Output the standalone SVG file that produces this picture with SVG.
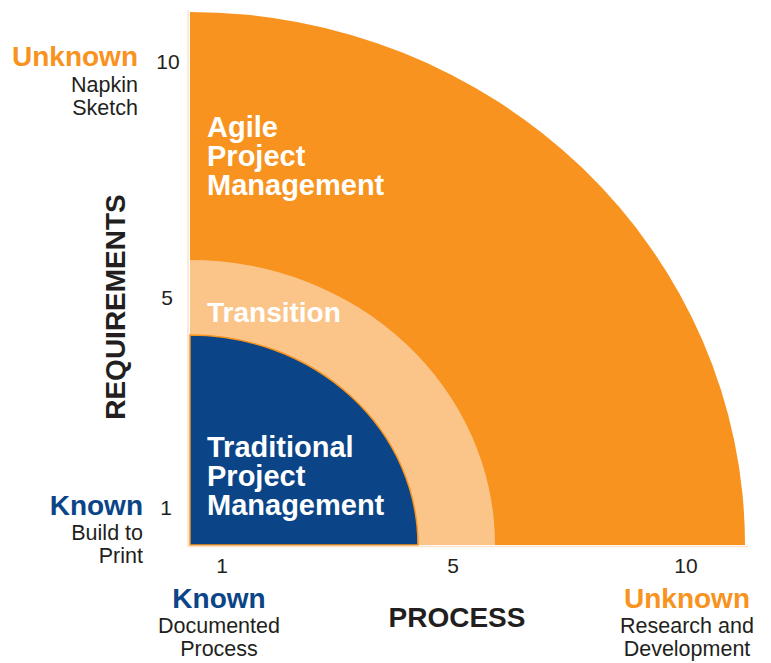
<svg xmlns="http://www.w3.org/2000/svg" width="771" height="663" viewBox="0 0 771 663">
<style>
text{font-family:"Liberation Sans",Arial,sans-serif;}
.zone{font-size:29px;font-weight:bold;fill:#ffffff;}
.tick{font-size:21px;fill:#231f20;}
.sub{font-size:21.5px;fill:#231f20;}
.unk{font-size:28px;font-weight:bold;fill:#f7931e;}
.kn{font-size:28px;font-weight:bold;fill:#0b4587;}
.axis{font-size:28px;font-weight:bold;fill:#231f20;}
</style>
<rect width="771" height="663" fill="#ffffff"/>
<g id="agile">
<path d="M190,545 L190,12 A555,533 0 0 1 745,545 Z" fill="#f7931e"/>
<text class="zone" x="207" y="137">Agile</text>
<text class="zone" x="207" y="166">Project</text>
<text class="zone" x="207" y="195">Management</text>
</g>
<g id="transition">
<path d="M190,545 L190,260 A305,285 0 0 1 495,545 Z" fill="#fbc58a"/>
<text class="zone" x="207" y="322" style="font-size:28px">Transition</text>
</g>
<g id="traditional">
<path d="M190,545 L190,335 A228,210 0 0 1 418,545 Z" fill="#0b4587" stroke="#f7931e" stroke-width="1.5"/>
<text class="zone" x="207" y="457">Traditional</text>
<text class="zone" x="207" y="486">Project</text>
<text class="zone" x="207" y="515">Management</text>
</g>
<g id="connectors">
<line x1="188" y1="10" x2="188" y2="547" stroke="#fde3cc" stroke-width="1.5"/>
<line x1="188" y1="546.5" x2="748" y2="546.5" stroke="#fde3cc" stroke-width="1.5"/>
</g>
<g id="y-axis">
<text class="tick" x="168" y="69" text-anchor="middle">10</text>
<text class="tick" x="167" y="305" text-anchor="middle">5</text>
<text class="tick" x="166" y="515" text-anchor="middle">1</text>
<text class="unk" x="138" y="66" text-anchor="end">Unknown</text>
<text class="sub" x="138" y="92" text-anchor="end">Napkin</text>
<text class="sub" x="138" y="115" text-anchor="end">Sketch</text>
<text class="kn" x="143" y="515" text-anchor="end">Known</text>
<text class="sub" x="143" y="540" text-anchor="end">Build to</text>
<text class="sub" x="143" y="563" text-anchor="end">Print</text>
<text class="axis" transform="translate(125,307) rotate(-90)" text-anchor="middle">REQUIREMENTS</text>
</g>
<g id="x-axis">
<text class="tick" x="222" y="573" text-anchor="middle">1</text>
<text class="tick" x="453" y="573" text-anchor="middle">5</text>
<text class="tick" x="686" y="573" text-anchor="middle">10</text>
<text class="kn" x="219" y="608" text-anchor="middle">Known</text>
<text class="sub" x="219" y="633" text-anchor="middle">Documented</text>
<text class="sub" x="219" y="656" text-anchor="middle">Process</text>
<text class="axis" x="457" y="627" text-anchor="middle">PROCESS</text>
<text class="unk" x="687" y="608" text-anchor="middle">Unknown</text>
<text class="sub" x="687" y="633" text-anchor="middle">Research and</text>
<text class="sub" x="687" y="656" text-anchor="middle">Development</text>
</g>
</svg>
